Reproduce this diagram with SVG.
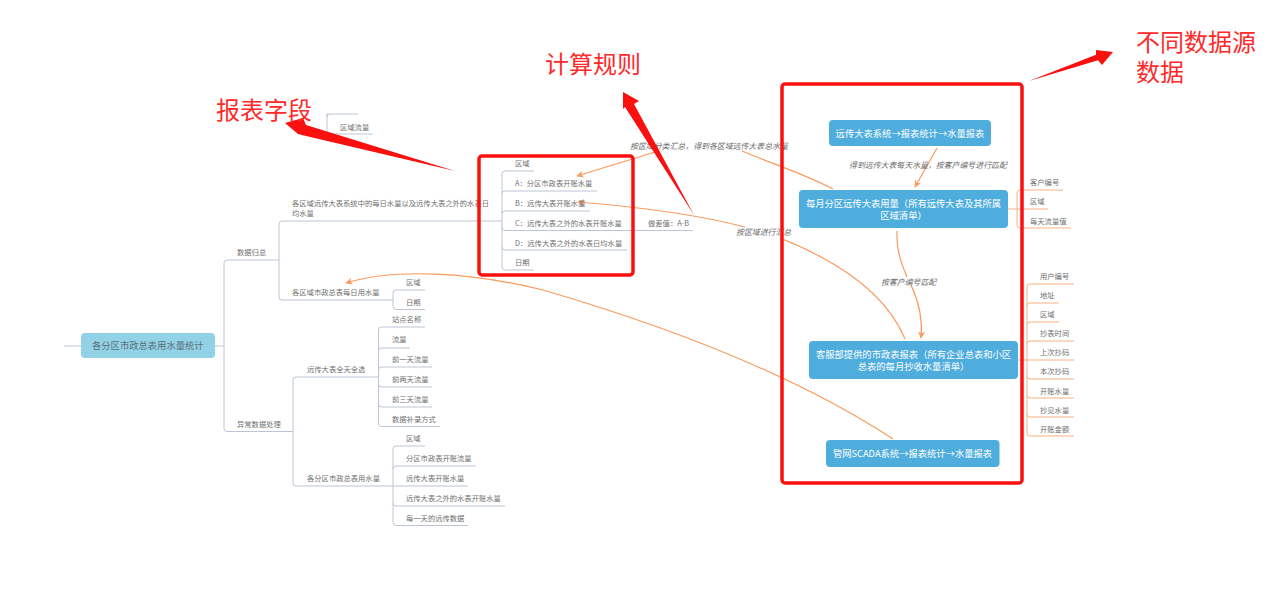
<svg xmlns="http://www.w3.org/2000/svg" width="1268" height="592" viewBox="0 0 1268 592">
<style>
text{font-family:"Noto Sans CJK SC","Liberation Sans",sans-serif;dominant-baseline:central}
.t{font-size:7.3px;fill:#707070;transform:translateY(-0.3px)}
.w{font-size:9.3px;fill:#fff;text-anchor:middle;transform:translateY(-0.3px)}
.i{font-size:7.9px;fill:#6a6a6a;font-style:italic;transform:translateY(-0.3px)}
.r{font-size:24px;fill:#ff2a2a}
.g{fill:none;stroke:#bcc5d4;stroke-width:1}
.o{fill:none;stroke:#f9b083;stroke-width:1}
.c{fill:none;stroke:#f99a5e;stroke-width:1.2}
.b{fill:#4eaddd}
.box{fill:none;stroke:#fb1010;stroke-width:3.5}
.ra{fill:#fb1010}
</style>
<defs>
<marker id="ah" viewBox="0 0 10 10" refX="9" refY="5" markerWidth="7" markerHeight="7" markerUnits="userSpaceOnUse" orient="auto"><path d="M0 0L10 5L0 10L2.5 5Z" fill="#f99a5e"/></marker>
</defs>
<g id="connectors">
<g id="tree-lines">
<path class="g" d="M64 346H81M215 346H224M224 346V263Q224 260 227 260H279M224 346V428.500Q224 431.500 227 431.500H293"/>
<path class="g" d="M279 260V224Q279 221 282 221H502M279 260V297Q279 300 282 300H393"/>
<path class="g" d="M358 114H330Q327 114 327 117V131Q327 134 330 134H373M327 113V117"/>
<path class="g" d="M393 300V293Q393 290 396 290H425M393 300V306.500Q393 309.500 396 309.500H425"/>
<path class="g" d="M502 221V174Q502 171 505 171H534M502 194Q502 191 505 191H597M502 214Q502 211 505 211H590M502 227Q502 230.500 505 230.500H693M502 247Q502 250 505 250H627M502 221V267Q502 270 505 270H534"/>
<path class="g" d="M293 431.500V380Q293 377 296 377H378.500M293 431.500V483Q293 486 296 486H393"/>
<path class="g" d="M378.500 377V330Q378.500 327 381.500 327H425M378.500 351Q378.500 348 381.500 348H410M378.500 370Q378.500 367 381.500 367H432M378.500 384Q378.500 387 381.500 387H432M378.500 404Q378.500 407 381.500 407H432M378.500 377V423.500Q378.500 426.500 381.500 426.500H440"/>
<path class="g" d="M393 486V449Q393 446 396 446H425M393 469Q393 466 396 466H476M393 486H468M393 503Q393 506 396 506H505M393 486V522.500Q393 525.500 396 525.500H468"/>
<path class="o" d="M1008 209H1017M1017 209V193Q1017 190 1020 190H1063M1017 209H1048M1017 209V225Q1017 228 1020 228H1071"/>
<path class="o" d="M1018 360H1074M1027 360V287Q1027 284 1030 284H1074M1027 306Q1027 303 1030 303H1059M1027 325Q1027 322 1030 322H1059M1027 344Q1027 341 1030 341H1074M1027 376Q1027 379 1030 379H1074M1027 395Q1027 398 1030 398H1074M1027 414Q1027 417 1030 417H1074M1027 360V433Q1027 436 1030 436H1074"/>
</g>
<g id="relations">
<path class="c" marker-end="url(#ah)" d="M937 148L915 187"/>
<path class="c" d="M897 231C896 248 900 262 907 277"/>
<path class="c" marker-end="url(#ah)" d="M911 285C918 300 923 318 921 338"/>
<path class="c" d="M833 189C800 172 770 163 742 151"/>
<path class="c" marker-end="url(#ah)" d="M655 152L577 176"/>
<path class="c" d="M905 339C885 290 830 258 780 238"/>
<path class="c" marker-end="url(#ah)" d="M745 227C695 214 640 207 578 202"/>
<path class="c" marker-end="url(#ah)" d="M893 439C800 378 680 330 543 290C470 272 395 268 346 283"/>
</g>
</g>
<g id="root"><rect class="b" x="81" y="333" width="134" height="25" rx="4" style="fill:#92d2e6"/><text x="92" y="345" style="font-size:9.300px;fill:#5b6f78">各分区市政总表用水量统计</text></g>
<g id="n-sjgz"><text class="t" x="237" y="252">数据归总</text></g>
<g id="n-ycsj"><text class="t" x="237" y="424">异常数据处理</text></g>
<g id="n-qyll"><text class="t" x="340" y="127">区域流量</text></g>
<g id="n-gqy"><text class="t" x="292" y="203">各区域远传大表系统中的每日水量以及远传大表之外的水表日</text><text class="t" x="292" y="213">均水量</text></g>
<g id="n-gqyzb"><text class="t" x="292" y="292">各区域市政总表每日用水量</text></g>
<g id="n-a1"><text class="t" x="406" y="282">区域</text></g>
<g id="n-a2"><text class="t" x="406" y="302">日期</text></g>
<g id="n-f1"><text class="t" x="515" y="163">区域</text></g>
<g id="n-f2"><text class="t" x="515" y="183">A：分区市政表开账水量</text></g>
<g id="n-f3"><text class="t" x="515" y="203">B：远传大表开账水量</text></g>
<g id="n-f4"><text class="t" x="515" y="223">C：远传大表之外的水表开账水量</text></g>
<g id="n-f5"><text class="t" x="515" y="243">D：远传大表之外的水表日均水量</text></g>
<g id="n-f6"><text class="t" x="515" y="262">日期</text></g>
<g id="n-diff"><text class="t" x="648" y="223">做差值：A-B</text></g>
<g id="n-yc"><text class="t" x="307" y="369">远传大表全天全选</text></g>
<g id="n-yc1"><text class="t" x="392" y="319">站点名称</text></g>
<g id="n-yc2"><text class="t" x="392" y="339">流量</text></g>
<g id="n-yc3"><text class="t" x="392" y="359">前一天流量</text></g>
<g id="n-yc4"><text class="t" x="392" y="379">前两天流量</text></g>
<g id="n-yc5"><text class="t" x="392" y="399">前三天流量</text></g>
<g id="n-yc6"><text class="t" x="392" y="419">数据补录方式</text></g>
<g id="n-gf"><text class="t" x="307" y="478">各分区市政总表用水量</text></g>
<g id="n-gf1"><text class="t" x="406" y="438">区域</text></g>
<g id="n-gf2"><text class="t" x="406" y="458">分区市政表开账流量</text></g>
<g id="n-gf3"><text class="t" x="406" y="478">远传大表开账水量</text></g>
<g id="n-gf4"><text class="t" x="406" y="498">远传大表之外的水表开账水量</text></g>
<g id="n-gf5"><text class="t" x="406" y="518">每一天的远传数据</text></g>
<g id="n-src1"><rect class="b" x="829" y="120" width="162" height="26" rx="4"/><text class="w" x="910" y="133">远传大表系统→报表统计→水量报表</text></g>
<g id="n-src2"><rect class="b" x="799" y="190" width="209" height="38" rx="4"/><text class="w" x="903.500" y="203">每月分区远传大表用量（所有远传大表及其所属</text><text class="w" x="903.500" y="215">区域清单）</text></g>
<g id="n-src3"><rect class="b" x="809" y="341" width="209" height="38" rx="4"/><text class="w" x="913.500" y="354.500">客服部提供的市政表报表（所有企业总表和小区</text><text class="w" x="913.500" y="366">总表的每月抄收水量清单）</text></g>
<g id="n-src4"><rect class="b" x="826" y="440" width="173.500" height="27" rx="4"/><text class="w" x="912.500" y="453.500">管网SCADA系统→报表统计→水量报表</text></g>
<g id="n-s2a"><text class="t" x="1030" y="182">客户编号</text></g>
<g id="n-s2b"><text class="t" x="1030" y="201">区域</text></g>
<g id="n-s2c"><text class="t" x="1030" y="221">每天流量值</text></g>
<g id="n-s3a"><text class="t" x="1040" y="276">用户编号</text></g>
<g id="n-s3b"><text class="t" x="1040" y="295">地址</text></g>
<g id="n-s3c"><text class="t" x="1040" y="314">区域</text></g>
<g id="n-s3d"><text class="t" x="1040" y="333">抄表时间</text></g>
<g id="n-s3e"><text class="t" x="1040" y="352">上次抄码</text></g>
<g id="n-s3f"><text class="t" x="1040" y="371">本次抄码</text></g>
<g id="n-s3g"><text class="t" x="1040" y="391">开账水量</text></g>
<g id="n-s3h"><text class="t" x="1040" y="410">抄见水量</text></g>
<g id="n-s3i"><text class="t" x="1040" y="429">开账金额</text></g>
<g id="relation-labels">
<text class="i" x="849" y="165">得到远传大表每天水量，按客户编号进行匹配</text>
<text class="i" x="881" y="282">按客户编号匹配</text>
<text class="i" x="630" y="146">按区域分类汇总，得到各区域远传大表总水量</text>
<text class="i" x="736" y="232">按区域进行汇总</text>
</g>
<g id="annotations">
<rect class="box" x="479" y="156" width="154" height="119" rx="3"/>
<rect class="box" x="782" y="84" width="240" height="399" rx="3"/>
<polygon class="ra" points="455,171 306,125 303,118 285,123 298,134 306,136"/>
<polygon class="ra" points="694,215 634,104 639,101 623,92 623,109 625,107"/>
<polygon class="ra" points="1029,81 1096,54.700 1096,50 1113,52 1102,65 1098,60.300"/>
<text class="r" x="216" y="108">报表字段</text>
<text class="r" x="545" y="62">计算规则</text>
<text class="r" x="1136" y="40">不同数据源<tspan x="1136" dy="30">数据</tspan></text>
</g>
</svg>
